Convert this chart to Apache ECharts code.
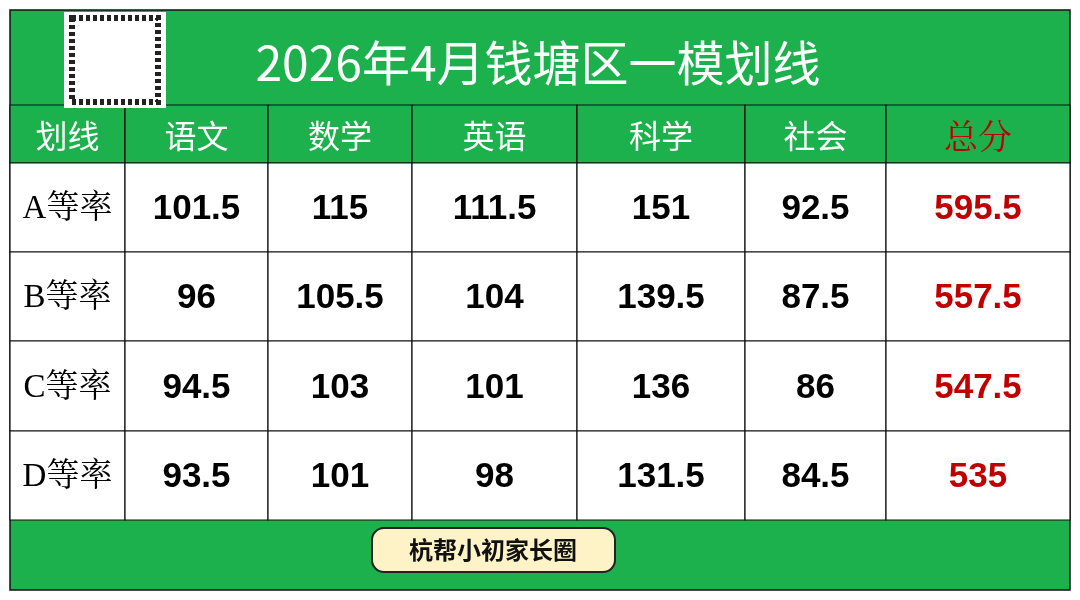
<!DOCTYPE html>
<html><head><meta charset="utf-8">
<script src="https://cdn.jsdelivr.net/npm/echarts@6/dist/echarts.min.js"></script>
<style>html,body{margin:0;padding:0;background:#fff}#c{width:1080px;height:600px}</style>
</head><body><div id="c"></div>
<script>
const title = '2026年4月钱塘区一模划线';
const headers = ['划线','语文','数学','英语','科学','社会','总分'];
const rowLabels = ['A等率','B等率','C等率','D等率'];
const yuwen = ['101.5','96','94.5','93.5'];
const shuxue = ['115','105.5','103','101'];
const yingyu = ['111.5','104','101','98'];
const kexue = ['151','139.5','136','131.5'];
const shehui = ['92.5','87.5','86','84.5'];
const zongfen = ['595.5','557.5','547.5','535'];
const footer = '杭帮小初家长圈';

// layout
const colEdges = [10,125,268,412,577,745,886,1070];
const rowEdges = [105,163,252,341,431,520];
const cols = [rowLabels, yuwen, shuxue, yingyu, kexue, shehui, zongfen];

const data = [];
headers.forEach((h,c)=>data.push([c,0,h]));
for (let r=0;r<4;r++) for (let c=0;c<7;c++) data.push([c,r+1,cols[c][r]]);

const chart = echarts.init(document.getElementById('c'));
chart.setOption({
  animation:false,
  grid:{left:0,right:0,top:0,bottom:0},
  xAxis:{type:'value',min:0,max:1080,show:false},
  yAxis:{type:'value',min:0,max:600,inverse:true,show:false},
  graphic:[
    {type:'rect',shape:{x:10,y:10,width:1060,height:580},style:{fill:'#1cb14c',stroke:'#111',lineWidth:1.5},z:0},
    {type:'rect',shape:{x:64,y:12,width:102,height:96},style:{fill:'#fff'},z:5},
    {type:'rect',shape:{x:72,y:18,width:86,height:84},style:{fill:'none',stroke:'#222',lineWidth:6,lineDash:[4,3]},z:6},
    {type:'text',x:538,y:63,style:{text:title,fill:'#fff',font:'48px "Noto Sans CJK SC"',align:'center',verticalAlign:'middle'},z:10},
    {type:'rect',shape:{x:372,y:528,width:243,height:44,r:12},style:{fill:'#fdf3c7',stroke:'#222',lineWidth:2},z:10},
    {type:'text',x:493,y:550,style:{text:footer,fill:'#111',font:'bold 24px "Noto Sans CJK SC"',align:'center',verticalAlign:'middle'},z:11}
  ],
  series:[{
    type:'custom',
    data:data,
    renderItem:function(params,api){
      const c=api.value(0), r=api.value(1), txt=data[params.dataIndex][2];
      const p0=api.coord([colEdges[c],rowEdges[r]]), p1=api.coord([colEdges[c+1],rowEdges[r+1]]);
      const header=r===0;
      let fill = header ? '#fff' : '#000';
      if (c===6) fill='#c00000';
      let font;
      if (header) font=(c===6?'34px "Noto Serif CJK SC","Noto Sans CJK SC"':'32px "Noto Sans CJK SC"');
      else if (c===0) font='33px "Liberation Serif","Noto Serif CJK SC","Noto Sans CJK SC"';
      else font='bold 35px "Liberation Sans", Arial';
      return {type:'group',children:[
        {type:'rect',shape:{x:p0[0],y:p0[1],width:p1[0]-p0[0],height:p1[1]-p0[1]},
          style:{fill:header?'#1cb14c':'#fff',stroke:'#111',lineWidth:1.2}},
        {type:'text',x:(p0[0]+p1[0])/2,y:(p0[1]+p1[1])/2+2,
          style:{text:txt,fill:fill,font:font,align:'center',verticalAlign:'middle'}}
      ]};
    }
  }]
});
</script></body></html>
